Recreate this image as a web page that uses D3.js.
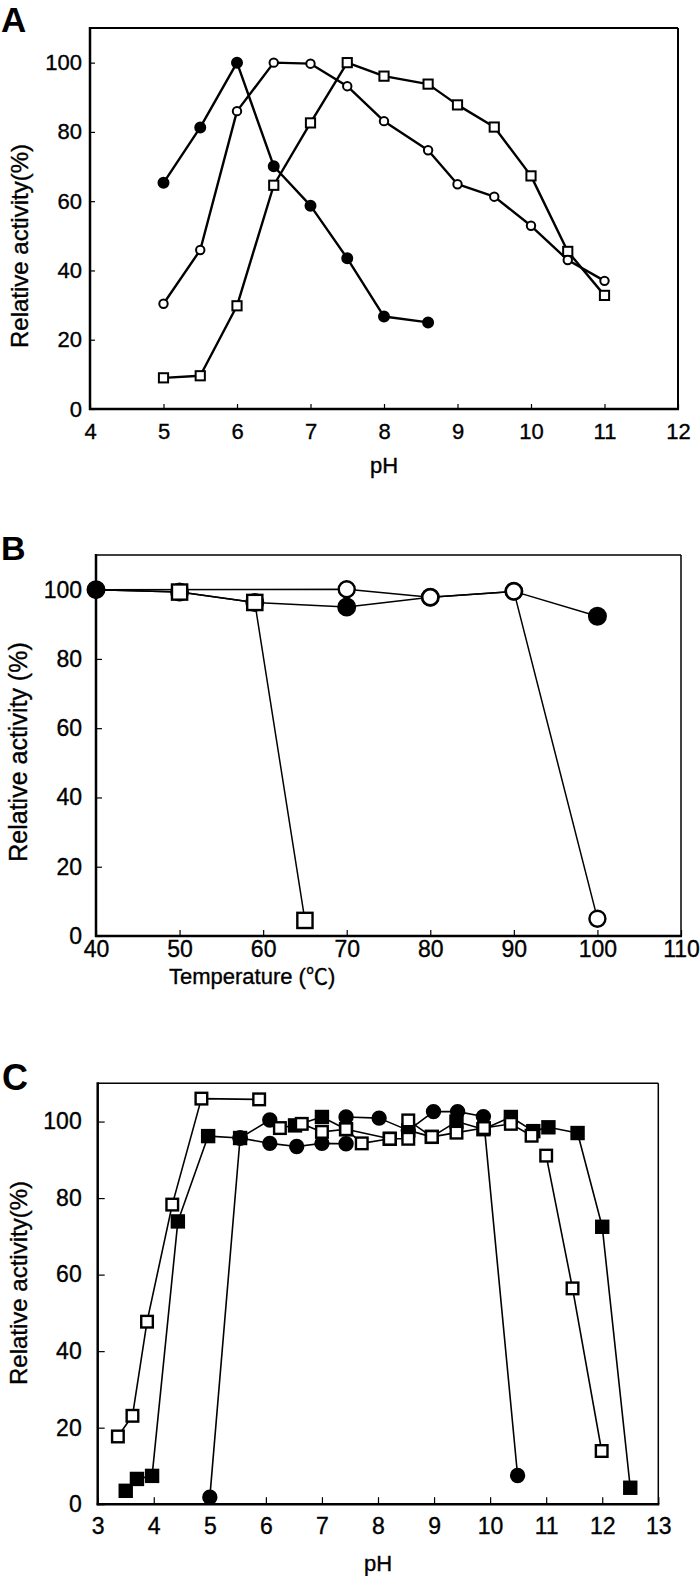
<!DOCTYPE html>
<html><head><meta charset="utf-8">
<script src="https://cdn.jsdelivr.net/npm/d3@7"></script>
<style>body{margin:0;background:#fff}svg{display:block}</style>
</head><body>
<script>
// ---------- Panel A: pH profile ----------
const aFilledPH  = [5, 5.5, 6, 6.5, 7, 7.5, 8, 8.6];
const aFilledAct = [65.3, 81.3, 100, 70.1, 58.7, 43.5, 26.7, 25.0];
const aOpenCirPH  = [5, 5.5, 6, 6.5, 7, 7.5, 8, 8.6, 9, 9.5, 10, 10.5, 11];
const aOpenCirAct = [30.4, 45.9, 86.0, 100, 99.7, 93.2, 83.1, 74.7, 64.9, 61.3, 52.9, 43.0, 37.0];
const aOpenSqPH  = [5, 5.5, 6, 6.5, 7, 7.5, 8, 8.6, 9, 9.5, 10, 10.5, 11];
const aOpenSqAct = [9.0, 9.6, 29.8, 64.6, 82.6, 100, 96.1, 93.8, 87.8, 81.4, 67.3, 45.5, 32.8];
const aXTicks = [4, 5, 6, 7, 8, 9, 10, 11, 12];
const aYTicks = [0, 20, 40, 60, 80, 100];

// ---------- Panel B: temperature stability ----------
const bFilledT   = [40, 50, 59, 70, 80, 90, 100];
const bFilledAct = [100, 99.3, 96.3, 95.0, 97.8, 99.5, 92.3];
const bOpenCirT   = [40, 70, 80, 90, 100];
const bOpenCirAct = [100, 100.1, 97.8, 99.5, 5.0];
const bOpenSqT   = [40, 50, 59, 65];
const bOpenSqAct = [100, 99.3, 96.3, 4.5];
const bXTicks = [40, 50, 60, 70, 80, 90, 100, 110];
const bYTicks = [0, 20, 40, 60, 80, 100];

// ---------- Panel C: pH stability (buffer segments) ----------
const cCir1PH = [5.0, 5.54, 6.07];             const cCir1Act = [1.8, 95.7, 100.4];
const cCir2PH = [5.54, 6.07, 6.55, 7.0, 7.43]; const cCir2Act = [95.7, 94.3, 93.5, 94.3, 94.2];
const cCir3PH = [7.43, 8.02, 8.54, 8.99, 9.42, 9.88, 10.49];
const cCir3Act = [101.2, 100.9, 97.7, 102.6, 102.6, 101.3, 7.5];
const cOSq1PH = [3.36, 3.62, 3.88, 4.33, 4.85, 5.88];
const cOSq1Act = [17.7, 23.1, 47.7, 78.3, 106.0, 105.8];
const cOSq2PH = [6.25, 6.64, 7.0, 7.43, 7.71, 8.21, 8.54];
const cOSq2Act = [98.3, 99.4, 97.3, 98.0, 94.3, 95.5, 95.5];
const cOSq3PH = [8.54, 8.96, 9.4, 9.89, 10.37, 10.74];
const cOSq3Act = [100.3, 96.0, 97.1, 98.3, 99.4, 96.3];
const cOSq4PH = [11.0, 11.47, 11.99];          const cOSq4Act = [91.1, 56.4, 13.9];
const cFSq1PH = [3.5, 3.7, 3.97, 4.43, 4.97, 5.54];
const cFSq1Act = [3.5, 6.6, 7.4, 73.9, 96.2, 95.7];
const cFSq2PH = [6.52, 7.0, 7.43, 8.21];       const cFSq2Act = [99.0, 101.2, 98.0, 95.5];
const cFSq3PH = [8.54, 8.96, 9.4, 9.88, 10.37, 10.77, 11.04, 11.56, 12.0, 12.5];
const cFSq3Act = [97.7, 96.0, 100.0, 98.0, 101.2, 97.5, 98.5, 97.0, 72.5, 4.3];
const cXTicks = [3, 4, 5, 6, 7, 8, 9, 10, 11, 12, 13];
const cYTicks = [0, 20, 40, 60, 80, 100];

const FONT = "'Liberation Sans', Arial, 'Noto Sans CJK JP', sans-serif";
const TXT_STROKE = 0.35;
const svg = d3.select("body").append("svg").attr("width", 700).attr("height", 1576);
const zip = (xs, ys) => xs.map((v, i) => [v, ys[i]]);

function styleText(sel, size) {
  sel.attr("font-family", FONT).attr("font-size", size).attr("fill", "#000")
     .attr("stroke", "#000").attr("stroke-width", TXT_STROKE);
}

function panel(c) {
  const g = svg.append("g");
  const x = d3.scaleLinear().domain(c.xDomain).range([c.left, c.right]);
  const y = d3.scaleLinear().domain([0, 110]).range([c.bottom, c.top]);

  const xa = g.append("g").attr("transform", `translate(0,${c.bottom})`)
    .call(d3.axisBottom(x).tickValues(c.xTicks).tickSizeInner(-c.tick).tickSizeOuter(0).tickPadding(c.xPad));
  const ya = g.append("g").attr("transform", `translate(${c.left},0)`)
    .call(d3.axisLeft(y).tickValues(c.yTicks).tickSizeInner(-c.tick).tickSizeOuter(0).tickPadding(c.yPad));
  [xa, ya].forEach(a => {
    a.select(".domain").remove();
    a.selectAll("line").attr("stroke", "#000").attr("stroke-width", 1.2);
    styleText(a.selectAll("text"), c.tickFont);
  });

  // frame
  g.append("line").attr("x1", c.left).attr("x2", c.right).attr("y1", c.top).attr("y2", c.top)
    .attr("stroke", "#000").attr("stroke-width", c.frameThin);
  g.append("line").attr("x1", c.right).attr("x2", c.right).attr("y1", c.top).attr("y2", c.bottom)
    .attr("stroke", "#000").attr("stroke-width", c.frameThin);
  g.append("line").attr("x1", c.left).attr("x2", c.left).attr("y1", c.top - 1).attr("y2", c.bottom + 1)
    .attr("stroke", "#000").attr("stroke-width", c.frameThick);
  g.append("line").attr("x1", c.left - 1).attr("x2", c.right + 1).attr("y1", c.bottom).attr("y2", c.bottom)
    .attr("stroke", "#000").attr("stroke-width", c.frameThick);

  const line = d3.line().x(d => x(d[0])).y(d => y(d[1]));
  c.series.forEach(s => {
    g.append("path").attr("d", line(s.pts)).attr("fill", "none")
      .attr("stroke", "#000").attr("stroke-width", c.lineW).attr("stroke-linejoin", "round");
  });
  c.series.forEach(s => {
    const pts = s.pts.filter((d, i) => !(s.skip && s.skip.includes(i)));
    const fill = s.filled ? "#000" : "#fff";
    if (s.shape === "circle") {
      g.selectAll(null).data(pts).enter().append("circle")
        .attr("cx", d => x(d[0])).attr("cy", d => y(d[1])).attr("r", s.size)
        .attr("fill", fill).attr("stroke", "#000").attr("stroke-width", c.markW);
    } else {
      g.selectAll(null).data(pts).enter().append("rect")
        .attr("x", d => x(d[0]) - s.size).attr("y", d => y(d[1]) - s.size)
        .attr("width", 2 * s.size).attr("height", 2 * s.size)
        .attr("fill", fill).attr("stroke", "#000").attr("stroke-width", c.markW);
    }
  });

  g.append("text").attr("x", c.letterX).attr("y", c.letterY).text(c.letter)
    .attr("font-family", FONT).attr("font-weight", "bold").attr("font-size", c.letterFont);
  styleText(g.append("text").attr("transform", `translate(${c.yTitleX},${c.yTitleY}) rotate(-90)`)
    .attr("text-anchor", "middle").text(c.yTitle), c.yTitleFont);
  styleText(g.append("text").attr("x", c.xTitleX).attr("y", c.xTitleY).attr("text-anchor", c.xTitleAnchor)
    .text(c.xTitle), c.xTitleFont);
}

panel({
  left: 90, right: 678, top: 28, bottom: 409, xDomain: [4, 12],
  xTicks: aXTicks, yTicks: aYTicks, tick: 5, xPad: 14, yPad: 8, tickFont: 22,
  frameThin: 2, frameThick: 2.5, lineW: 2.4, markW: 2,
  series: [
    {pts: zip(aOpenSqPH, aOpenSqAct), shape: "square", filled: false, size: 4.6},
    {pts: zip(aOpenCirPH, aOpenCirAct), shape: "circle", filled: false, size: 4.2},
    {pts: zip(aFilledPH, aFilledAct), shape: "circle", filled: true, size: 5}
  ],
  letter: "A", letterX: 1, letterY: 32, letterFont: 35,
  yTitle: "Relative activity(%)", yTitleX: 28, yTitleY: 246, yTitleFont: 24,
  xTitle: "pH", xTitleX: 384, xTitleY: 473, xTitleAnchor: "middle", xTitleFont: 22
});

panel({
  left: 96, right: 681, top: 555, bottom: 936, xDomain: [40, 110],
  xTicks: bXTicks, yTicks: bYTicks, tick: 6, xPad: 5, yPad: 14, tickFont: 23,
  frameThin: 1.5, frameThick: 2.5, lineW: 1.5, markW: 2.4,
  series: [
    {pts: zip(bFilledT, bFilledAct), shape: "circle", filled: true, size: 8.3},
    {pts: zip(bOpenSqT, bOpenSqAct), shape: "square", filled: false, size: 7.6, skip: [0]},
    {pts: zip(bOpenCirT, bOpenCirAct), shape: "circle", filled: false, size: 8, skip: [0]}
  ],
  letter: "B", letterX: 1, letterY: 560, letterFont: 34,
  yTitle: "Relative activity (%)", yTitleX: 27, yTitleY: 752, yTitleFont: 25,
  xTitle: "Temperature (℃)", xTitleX: 169, xTitleY: 984, xTitleAnchor: "start", xTitleFont: 22
});

panel({
  left: 97.7, right: 658.3, top: 1083.3, bottom: 1504.2, xDomain: [3, 13],
  xTicks: cXTicks, yTicks: cYTicks, tick: 7, xPad: 13, yPad: 16, tickFont: 23,
  frameThin: 1.5, frameThick: 2.5, lineW: 1.6, markW: 2.4,
  series: [
    {pts: zip(cFSq1PH, cFSq1Act), shape: "square", filled: true, size: 6},
    {pts: zip(cFSq2PH, cFSq2Act), shape: "square", filled: true, size: 6},
    {pts: zip(cFSq3PH, cFSq3Act), shape: "square", filled: true, size: 6},
    {pts: zip(cCir1PH, cCir1Act), shape: "circle", filled: true, size: 6.5},
    {pts: zip(cCir2PH, cCir2Act), shape: "circle", filled: true, size: 6.5},
    {pts: zip(cCir3PH, cCir3Act), shape: "circle", filled: true, size: 6.5},
    {pts: zip(cOSq1PH, cOSq1Act), shape: "square", filled: false, size: 5.8},
    {pts: zip(cOSq2PH, cOSq2Act), shape: "square", filled: false, size: 5.8},
    {pts: zip(cOSq3PH, cOSq3Act), shape: "square", filled: false, size: 5.8},
    {pts: zip(cOSq4PH, cOSq4Act), shape: "square", filled: false, size: 5.8}
  ],
  letter: "C", letterX: 2, letterY: 1090, letterFont: 36,
  yTitle: "Relative activity(%)", yTitleX: 27, yTitleY: 1283, yTitleFont: 24,
  xTitle: "pH", xTitleX: 378, xTitleY: 1571, xTitleAnchor: "middle", xTitleFont: 22
});
</script>
</body></html>
